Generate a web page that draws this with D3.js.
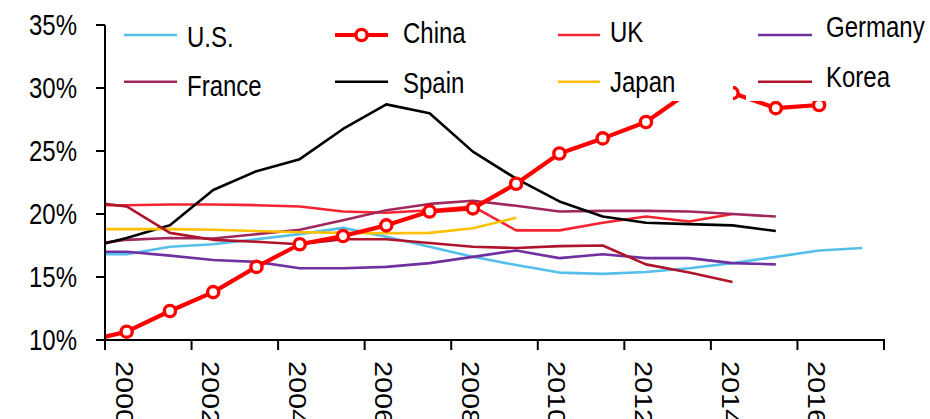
<!DOCTYPE html>
<html><head><meta charset="utf-8">
<script src="https://cdn.jsdelivr.net/npm/d3@7/dist/d3.min.js"></script>
<style>
body{margin:0;background:#fff}
svg{display:block}
text{font-family:"Liberation Sans",Arial,sans-serif;fill:#000}
</style>
</head><body>
<svg id="chart" width="930" height="419"></svg>
<script>
// ---- data (share of GDP, %) ----
const years = d3.range(1999, 2018);
const seriesNames = ["U.S.", "China", "UK", "Germany", "France", "Spain", "Japan", "Korea"];
const usValues      = [16.8, 16.8, 17.4, 17.6, 18.0, 18.4, 18.9, 18.2, 17.4, 16.6, 15.95, 15.35, 15.25, 15.4, 15.7, 16.1, 16.6, 17.1, 17.3];
const chinaValues   = [9.86, 10.66, 12.3, 13.8, 15.8, 17.6, 18.25, 19.1, 20.2, 20.45, 22.4, 24.8, 26.0, 27.3, 29.7, 29.6, 28.4, 28.65, null];
const ukValues      = [20.7, 20.7, 20.75, 20.75, 20.7, 20.6, 20.2, 20.1, 20.3, 20.6, 18.7, 18.7, 19.3, 19.8, 19.4, 20.0, null, null, null];
const germanyValues = [17.0, 17.0, 16.7, 16.35, 16.2, 15.7, 15.7, 15.8, 16.1, 16.6, 17.1, 16.5, 16.8, 16.5, 16.5, 16.1, 16.0, null, null];
const franceValues  = [17.5, 17.95, 18.1, 18.05, 18.4, 18.75, 19.5, 20.3, 20.8, 21.05, 20.65, 20.2, 20.25, 20.25, 20.2, 20.0, 19.8, null, null];
const spainValues   = [17.25, 18.1, 19.1, 21.9, 23.4, 24.35, 26.75, 28.7, 28.0, 24.95, 22.8, 21.0, 19.8, 19.3, 19.2, 19.1, 18.65, null, null];
const japanValues   = [18.8, 18.8, 18.8, 18.75, 18.65, 18.55, 18.5, 18.47, 18.5, 18.87, 19.7, null, null, null, null, null, null, null, null];
const koreaValues   = [21.0, 20.6, 18.5, 17.95, 17.8, 17.6, 18.0, 18.0, 17.7, 17.4, 17.3, 17.45, 17.5, 16.0, 15.35, 14.6, null, null, null];
const yTickValues = [10, 15, 20, 25, 30, 35];
const xLabelYears = [2000, 2002, 2004, 2006, 2008, 2010, 2012, 2014, 2016];

// ---- styles ----
const colors = {"U.S.":"#55BFEB","China":"#FF0000","UK":"#F62431","Germany":"#7030A0",
                "France":"#A0285C","Spain":"#000000","Japan":"#FFC000","Korea":"#B0142B"};
const valuesByName = {"U.S.":usValues,"China":chinaValues,"UK":ukValues,"Germany":germanyValues,
                      "France":franceValues,"Spain":spainValues,"Japan":japanValues,"Korea":koreaValues};
const drawOrder = ["U.S.","Germany","UK","France","Spain","Japan","Korea","China"];

const svg = d3.select("#chart");
const pLeft = 105, pRight = 884, pTop = 25, pBottom = 340;
const x = d3.scaleLinear().domain([1999.5, 2017.5]).range([pLeft, pRight]);
const y = d3.scaleLinear().domain([10, 35]).range([pBottom, pTop]);
const FS = 24, SY = 1.2;

svg.append("defs").append("clipPath").attr("id","plotclip")
  .append("rect").attr("x", pLeft).attr("y", 0).attr("width", pRight - pLeft).attr("height", pBottom);

const plot = svg.append("g").attr("clip-path","url(#plotclip)");
const line = d3.line().defined(d => d.v != null).x(d => x(d.year)).y(d => y(d.v));

drawOrder.forEach(name => {
  const pts = years.map((yr, i) => ({year: yr, v: valuesByName[name][i]}));
  plot.append("path").datum(pts)
    .attr("fill","none").attr("stroke", colors[name])
    .attr("stroke-width", name === "China" ? 4.2 : 2.6)
    .attr("stroke-linejoin","round")
    .attr("d", line);
  if (name === "China") {
    plot.selectAll(".mk").data(pts.filter(d => d.v != null && d.year >= 2000)).enter()
      .append("circle").attr("cx", d => x(d.year)).attr("cy", d => y(d.v))
      .attr("r", 5.6).attr("fill","#fff").attr("stroke", colors.China).attr("stroke-width", 3.4);
  }
});

// ---- axes ----
const axG = svg.append("g").attr("stroke","#000").attr("stroke-width",2);
axG.append("line").attr("x1",pLeft).attr("x2",pLeft).attr("y1",pTop).attr("y2",pBottom+1);
axG.append("line").attr("x1",pLeft-1).attr("x2",pRight+1).attr("y1",pBottom).attr("y2",pBottom);
yTickValues.forEach(v => {
  axG.append("line").attr("x1",pLeft-9).attr("x2",pLeft).attr("y1",y(v)).attr("y2",y(v));
  svg.append("g").attr("transform",`translate(77,${y(v) + FS*0.716*SY/2}) scale(1,${SY})`)
    .append("text").attr("text-anchor","end").attr("font-size",FS).text(v + "%");
});
d3.range(1999.5, 2018, 2).forEach(t => {
  axG.append("line").attr("x1",x(t)).attr("x2",x(t)).attr("y1",pBottom).attr("y2",pBottom+10);
});
xLabelYears.forEach(yr => {
  svg.append("g").attr("transform",`translate(${x(yr) - 11},361) scale(1,${SY}) rotate(90)`)
    .append("text").attr("font-size",FS).text(yr);
});

// ---- legend ----
const legendCols = [
  {names:["U.S.","France"],  lx:124, lw:53, tx:187, base:46.5, box:[110, 325]},
  {names:["China","Spain"],  lx:335, lw:53, tx:403, base:43,   box:[325, 548]},
  {names:["UK","Japan"],     lx:558, lw:42, tx:610, base:42.3, box:[548, 733]},
  {names:["Germany","Korea"],lx:758, lw:54, tx:826, base:37.3, box:[746, 930]}
];
const rowLineY = [35, 81.7], rowGap = 49.5;
const lg = svg.append("g");
legendCols.forEach(c => {
  lg.append("rect").attr("x",c.box[0]).attr("y",0).attr("width",c.box[1]-c.box[0]).attr("height",101).attr("fill","#fff");
});
legendCols.forEach(c => {
  c.names.forEach((name, r) => {
    const ly = rowLineY[r];
    lg.append("line").attr("x1",c.lx).attr("x2",c.lx + c.lw).attr("y1",ly).attr("y2",ly)
      .attr("stroke",colors[name]).attr("stroke-width", name === "China" ? 4.2 : 2.6);
    if (name === "China") {
      lg.append("circle").attr("cx",c.lx + c.lw/2).attr("cy",ly).attr("r",5.6)
        .attr("fill","#fff").attr("stroke",colors.China).attr("stroke-width",3.4);
    }
    lg.append("g").attr("transform",`translate(${c.tx},${c.base + r*rowGap}) scale(1,${SY})`)
      .append("text").attr("font-size",FS).text(name);
  });
});
</script>
</body></html>
